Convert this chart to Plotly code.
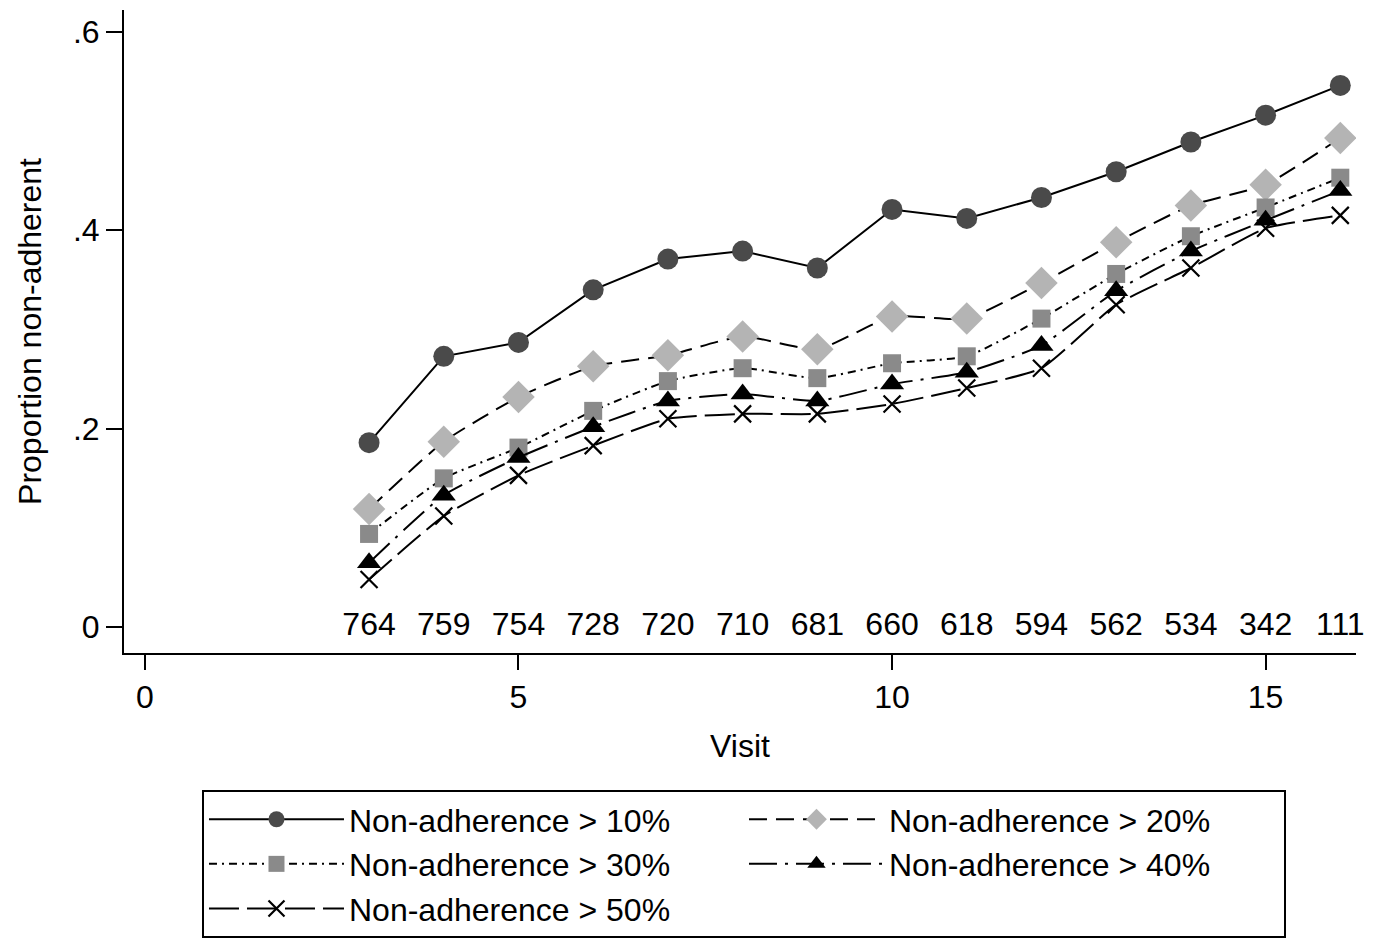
import plotly.graph_objects as go

visits = [3, 4, 5, 6, 7, 8, 9, 10, 11, 12, 13, 14, 15, 16]
counts = ["764", "759", "754", "728", "720", "710", "681", "660", "618", "594", "562", "534", "342", "111"]

p10 = [0.186, 0.273, 0.287, 0.340, 0.371, 0.379, 0.362, 0.421, 0.412, 0.433, 0.459, 0.489, 0.516, 0.546]
p20 = [0.119, 0.187, 0.232, 0.263, 0.274, 0.293, 0.280, 0.313, 0.311, 0.347, 0.388, 0.425, 0.446, 0.493]
p30 = [0.094, 0.150, 0.181, 0.218, 0.248, 0.261, 0.251, 0.266, 0.273, 0.311, 0.356, 0.394, 0.423, 0.453]
p40 = [0.065, 0.133, 0.171, 0.202, 0.228, 0.235, 0.228, 0.245, 0.257, 0.284, 0.339, 0.379, 0.410, 0.440]
p50 = [0.048, 0.112, 0.153, 0.183, 0.210, 0.215, 0.215, 0.225, 0.241, 0.261, 0.325, 0.362, 0.402, 0.415]

names = ["Non-adherence > 10%", "Non-adherence > 20%", "Non-adherence > 30%",
         "Non-adherence > 40%", "Non-adherence > 50%"]

FONT = "Liberation Sans, Arial, sans-serif"
FS = 32

styles = [
    dict(data=p10, dash="solid", shape="linear", sym="circle", color="#4a4a4a", size=21, lw=0),
    dict(data=p20, dash="18px,9px", shape="spline", sym="diamond", color="#b4b4b4", size=25, lw=0),
    dict(data=p30, dash="8px,5px,2px,5px", shape="spline", sym="square", color="#8a8a8a", size=18, lw=0),
    dict(data=p40, dash="28px,8px,3px,8px", shape="spline", sym="triangle-up", color="#000000", size=21, lw=0),
    dict(data=p50, dash="30px,8px", shape="spline", sym="x-thin", color="#000000", size=17, lw=2.2),
]

fig = go.Figure()
for nm, s in zip(names, styles):
    fig.add_trace(go.Scatter(
        x=visits, y=s["data"], name=nm, mode="lines+markers",
        line=dict(color="black", width=2, dash=s["dash"], shape=s["shape"], smoothing=0.5),
        marker=dict(symbol=s["sym"], color=s["color"], size=s["size"],
                    line=dict(width=s["lw"], color="black")),
    ))

fig.add_trace(go.Scatter(
    x=visits, y=[0] * len(visits), mode="text", text=counts,
    textposition="middle center", showlegend=False, cliponaxis=False,
    textfont=dict(size=FS, color="black", family=FONT), hoverinfo="skip",
))

fig.update_layout(
    width=1374, height=946,
    margin=dict(l=116, r=26, t=2, b=301, autoexpand=False),
    paper_bgcolor="white", plot_bgcolor="white",
    font=dict(family=FONT, size=FS, color="black"),
    xaxis=dict(range=[-0.28, 16.21], tickvals=[0, 5, 10, 15], ticks="outside",
               ticklen=15, tickwidth=2, tickcolor="black", showline=True,
               linecolor="black", linewidth=2, showgrid=False, zeroline=False,
               title=dict(text="Visit", font=dict(size=FS), standoff=20)),
    yaxis=dict(range=[-0.026, 0.622], tickvals=[0, 0.2, 0.4, 0.6],
               ticktext=["0", ".2", ".4", ".6"], ticks="outside", ticklen=16,
               tickwidth=2, tickcolor="black", showline=True, linecolor="black",
               linewidth=2, showgrid=False, zeroline=False,
               title=dict(text="Proportion non-adherent", font=dict(size=FS), standoff=22)),
    legend=dict(orientation="h", x=0.0633, y=-0.213, xanchor="left", yanchor="top",
                bordercolor="black", borderwidth=2, bgcolor="white",
                font=dict(size=FS, family=FONT), entrywidth=390, itemwidth=135,
                traceorder="normal"),
    showlegend=True,
)

fig.write_html("out.html")
